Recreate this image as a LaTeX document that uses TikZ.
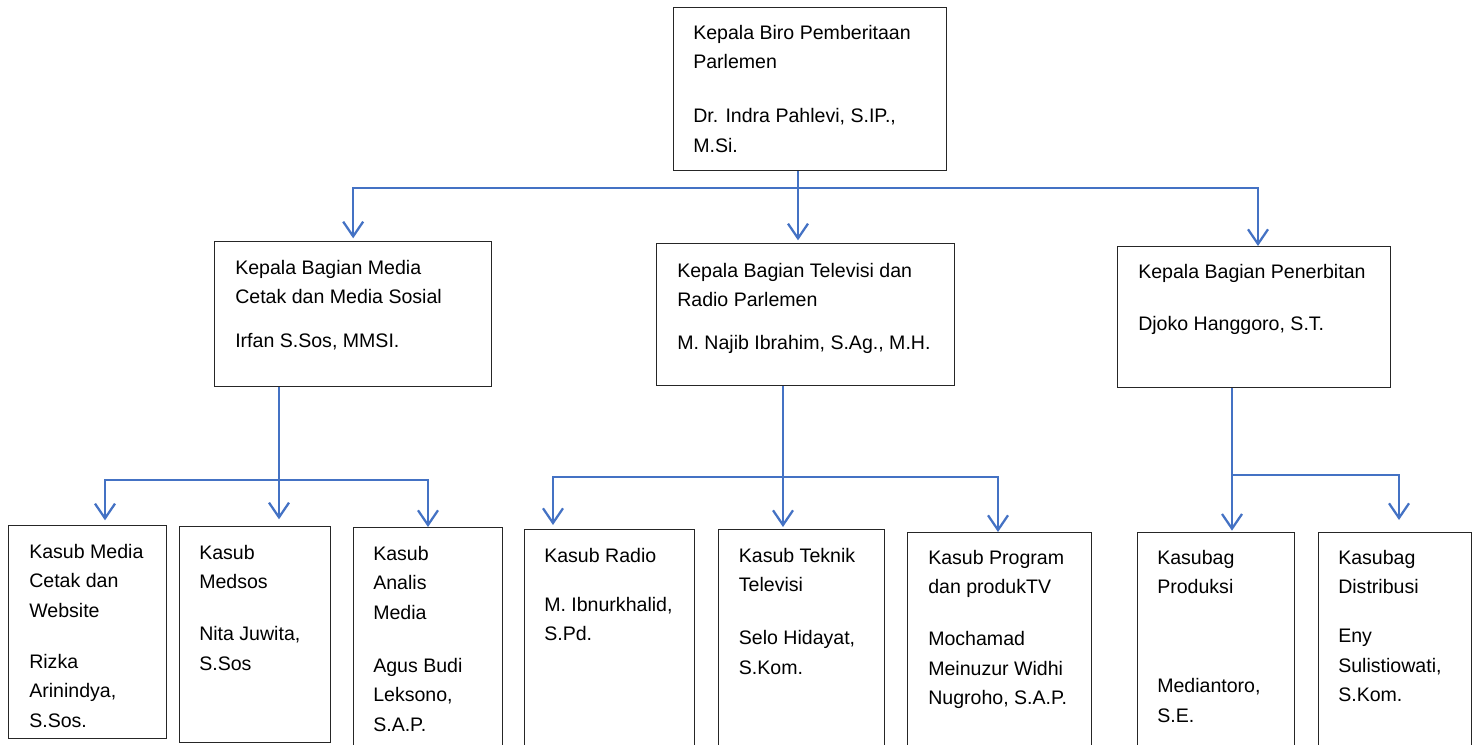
\documentclass[tikz,border=0pt]{standalone}
\usepackage{fontspec}
\setmainfont{Liberation Sans}
\usetikzlibrary{arrows.meta,calc}
\definecolor{arrblue}{RGB}{68,114,196}
\newcommand\tp{\rule{0pt}{12pt}}
\begin{document}
\begin{tikzpicture}[x=0.75pt,y=-0.75pt,
  obox/.style={draw=black!85, line width=1pt, inner sep=0pt, anchor=north west},
  txt/.style={anchor=north west, inner sep=0pt, align=left, font=\fontsize{14.67pt}{22.1pt}\selectfont},
  conn/.style={draw=arrblue, line width=1.7pt},
  arr/.style={conn, -{Straight Barb[length=11pt,width=15pt]}}]
\useasboundingbox (0,0) rectangle (1478,745);
\clip (0,0) rectangle (1478,745);
% boxes
\node[obox, minimum width=273*0.75pt, minimum height=163*0.75pt] (T) at (673,7) {};
\node[obox, minimum width=277*0.75pt, minimum height=145*0.75pt] (A) at (214,241) {};
\node[obox, minimum width=298*0.75pt, minimum height=142*0.75pt] (B) at (656,243) {};
\node[obox, minimum width=273*0.75pt, minimum height=141*0.75pt] (C) at (1117,246) {};
\node[obox, minimum width=158*0.75pt, minimum height=213*0.75pt] (b1) at (8,525) {};
\node[obox, minimum width=151*0.75pt, minimum height=216*0.75pt] (b2) at (179,526) {};
\node[obox, minimum width=149*0.75pt, minimum height=240*0.75pt] (b3) at (353,527) {};
\node[obox, minimum width=170*0.75pt, minimum height=240*0.75pt] (b4) at (524,529) {};
\node[obox, minimum width=166*0.75pt, minimum height=240*0.75pt] (b5) at (718,529) {};
\node[obox, minimum width=184*0.75pt, minimum height=240*0.75pt] (b6) at (907,532) {};
\node[obox, minimum width=157*0.75pt, minimum height=240*0.75pt] (b7) at (1137,532) {};
\node[obox, minimum width=153*0.75pt, minimum height=240*0.75pt] (b8) at (1318,532) {};
% texts
\node[txt] (Tt) at (693,23) {\tp Kepala Biro Pemberitaan\\Parlemen\\[18.4pt]Dr. Indra Pahlevi, S.IP.,\\M.Si.};
\node[txt] (At) at (235,258) {\tp Kepala Bagian Media\\Cetak dan Media Sosial\\[10.9pt]Irfan S.Sos, MMSI.};
\node[txt] (Bt) at (677,261) {\tp Kepala Bagian Televisi dan\\Radio Parlemen\\[10.1pt]M. Najib Ibrahim, S.Ag., M.H.};
\node[txt] (Ct) at (1138,262) {\tp Kepala Bagian Penerbitan\\[16.9pt]Djoko Hanggoro, S.T.};
\node[txt] (t1) at (29,542) {\tp Kasub Media\\Cetak dan\\Website\\[16.1pt]Rizka\\Arinindya,\\S.Sos.};
\node[txt] (t2) at (199,543) {\tp Kasub\\Medsos\\[16.9pt]Nita Juwita,\\S.Sos};
\node[txt] (t3) at (373,544) {\tp Kasub\\Analis\\Media\\[17.6pt]Agus Budi\\Leksono,\\S.A.P.};
\node[txt] (t4) at (544,546) {\tp Kasub Radio\\[14.6pt]M. Ibnurkhalid,\\S.Pd.};
\node[txt] (t5) at (738.6,546) {\tp Kasub Teknik\\Televisi\\[17.6pt]Selo Hidayat,\\S.Kom.};
\node[txt] (t6) at (928,548) {\tp Kasub Program\\dan produkTV\\[16.9pt]Mochamad\\Meinuzur Widhi\\Nugroho, S.A.P.};
\node[txt] (t7) at (1157,548) {\tp Kasubag\\Produksi\\[52.1pt]Mediantoro,\\S.E.};
\node[txt] (t8) at (1338,548) {\tp Kasubag\\Distribusi\\[14.6pt]Eny\\Sulistiowati,\\S.Kom.};
% connector coordinates
\coordinate (j0) at (798,188);
\coordinate (xc) at (1258,0);
\coordinate (ja) at (279,480);
\coordinate (xa1) at (105,0);
\coordinate (xa3) at (428,0);
\coordinate (jb) at (783,477);
\coordinate (xb1) at (553,0);
\coordinate (xb3) at (998,0);
\coordinate (jc) at (1232,475);
\coordinate (xc2) at (1399,0);
% level 1
\draw[conn] (T.south -| j0) -- (j0);
\draw[arr, shorten >=2pt] (j0) -| (A.north);
\draw[arr, shorten >=2pt] (j0) -- (B.north -| j0);
\draw[arr] (j0) -| (C.north -| xc);
% group A
\draw[conn] (A.south -| ja) -- (ja);
\draw[arr, shorten >=3.5pt] (ja) -| (b1.north -| xa1);
\draw[arr, shorten >=5pt] (ja) -- (b2.north -| ja);
\draw[arr] (ja) -| (b3.north -| xa3);
% group B
\draw[conn] (B.south -| jb) -- (jb);
\draw[arr, shorten >=3pt] (jb) -| (b4.north -| xb1);
\draw[arr, shorten >=1.5pt] (jb) -- (b5.north -| jb);
\draw[arr] (jb) -| (b6.north -| xb3);
% group C
\draw[arr, shorten >=1pt] (C.south -| jc) -- (b7.north -| jc);
\draw[arr, shorten >=9pt] (jc) -| (b8.north -| xc2);
\end{tikzpicture}
\end{document}
